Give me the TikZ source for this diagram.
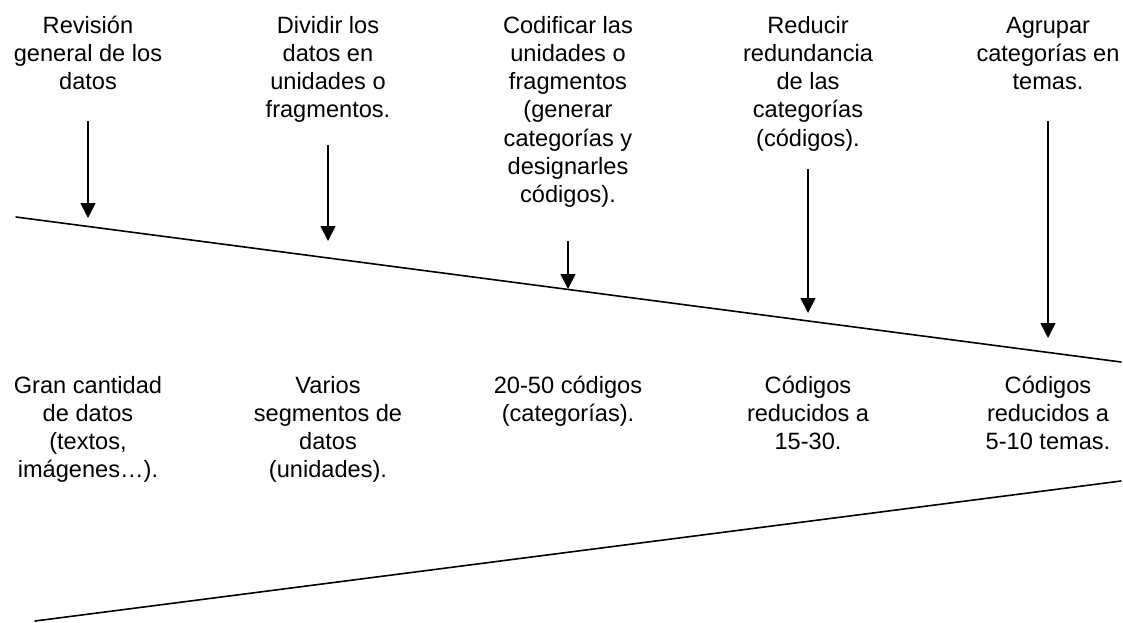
\documentclass[tikz,border=0pt]{standalone}
\usepackage{fontspec}
\setmainfont{Liberation Sans}
\usetikzlibrary{arrows.meta}
\begin{document}
\begin{tikzpicture}[x=1pt,y=-1pt,
  lbl/.style={align=center, inner sep=0pt, anchor=base, font=\fontsize{23.6}{28.3}\selectfont},
  ln/.style={line width=1.6pt, line cap=round},
  arr/.style={line width=1.6pt, -{Triangle[width=15pt,length=15pt]}}]
\useasboundingbox (0,0) rectangle (1123,622);
% top labels (anchor = baseline of last line)
\node[lbl] (t1) at (88,89.6) {Revisión\\general de los\\datos};
\node[lbl] (t2) at (328,117.9) {Dividir los\\datos en\\unidades o\\fragmentos.};
\node[lbl] (t3) at (568,202.8) {Codificar las\\unidades o\\fragmentos\\(generar\\categorías y\\designarles\\códigos).};
\node[lbl] (t4) at (808,146.2) {Reducir\\redundancia\\de las\\categorías\\(códigos).};
\node[lbl] (t5) at (1048,89.6) {Agrupar\\categorías en\\temas.};
% bottom labels
\node[lbl] (b1) at (88,477.9) {Gran cantidad\\de datos\\(textos,\\imágenes…).};
\node[lbl] (b2) at (328,477.9) {Varios\\segmentos de\\datos\\(unidades).};
\node[lbl] (b3) at (568,421.3) {20-50 códigos\\(categorías).};
\node[lbl] (b4) at (808,449.6) {Códigos\\reducidos a\\15-30.};
\node[lbl] (b5) at (1048,449.6) {Códigos\\reducidos a\\5-10 temas.};
% funnel lines
\coordinate (L1a) at (16,217);
\coordinate (L1b) at (1121,362);
\coordinate (L2a) at (35,621);
\coordinate (L2b) at (1121,481);
\draw[ln] (L1a) -- (L1b);
\draw[ln] (L2a) -- (L2b);
% arrows
\coordinate (a1s) at (88,121);  \coordinate (a1e) at (88,218);
\coordinate (a2s) at (328,145); \coordinate (a2e) at (328,241);
\coordinate (a3s) at (568,241); \coordinate (a3e) at (568,289);
\coordinate (a4s) at (808,169); \coordinate (a4e) at (808,313);
\coordinate (a5s) at (1048,121); \coordinate (a5e) at (1048,338);
\draw[arr] (a1s) -- (a1e);
\draw[arr] (a2s) -- (a2e);
\draw[arr] (a3s) -- (a3e);
\draw[arr] (a4s) -- (a4e);
\draw[arr] (a5s) -- (a5e);
\end{tikzpicture}
\end{document}
